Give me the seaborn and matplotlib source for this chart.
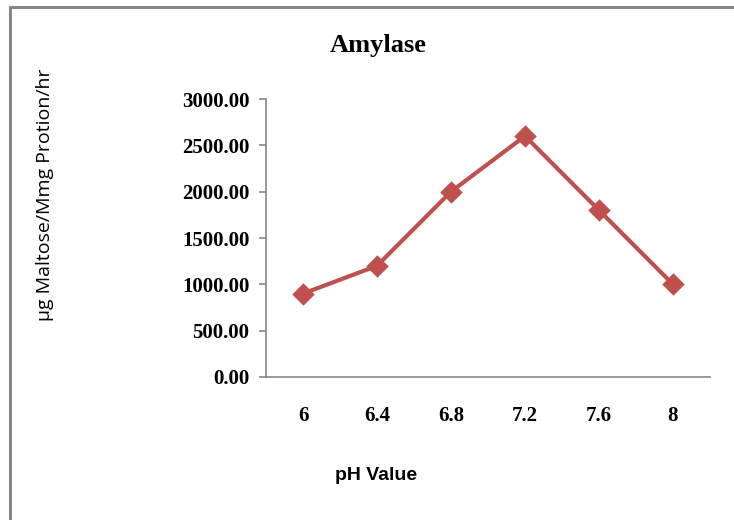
import pandas as pd
import seaborn as sns
import matplotlib.pyplot as plt
from matplotlib.lines import Line2D

# data
ph = ["6", "6.4", "6.8", "7.2", "7.6", "8"]
activity = [900, 1200, 2000, 2600, 1800, 1000]
df = pd.DataFrame({"ph": ph, "activity": activity})

sns.set_style("white")
red = "#C0504D"
grey = "#868686"

fig = plt.figure(figsize=(7.34, 5.2), dpi=100)
ax = fig.add_axes([0.3624, 0.275, 0.6049, 0.5346])

sns.pointplot(data=df, x="ph", y="activity", order=ph, color=red,
              marker="D", markersize=9, linewidth=3, errorbar=None, ax=ax)

ax.set_ylim(0, 3000)
ax.set_xlim(-0.5, 5.5)
yt = [0, 500, 1000, 1500, 2000, 2500, 3000]
ax.set_yticks(yt)
ax.set_yticklabels([f"{v:.2f}" for v in yt])
ax.set_xlabel("")
ax.set_ylabel("")
for lab in ax.get_xticklabels() + ax.get_yticklabels():
    lab.set_fontfamily("Liberation Serif")
    lab.set_fontweight("bold")
    lab.set_fontsize(15)
    lab.set_color("black")
ax.tick_params(axis="x", length=0, pad=21)
ax.tick_params(axis="y", length=5, width=1.2, color=grey, direction="out", left=True, pad=7)

for s in ["top", "right"]:
    ax.spines[s].set_visible(False)
for s in ["left", "bottom"]:
    ax.spines[s].set_color(grey)
    ax.spines[s].set_linewidth(1.2)

# titles as figure text
fig.text(0.515, 0.913, "Amylase", ha="center", va="center", color="black",
         fontfamily="Liberation Serif", fontweight="bold", fontsize=19)
fig.text(0.061, 0.625, "µg Maltose/Mmg Protion/hr", ha="center", va="center",
         rotation=90, fontfamily="Open Sans", fontsize=14, color="black")
fig.text(0.512, 0.0865, "pH Value", ha="center", va="center", color="black",
         fontfamily="Liberation Sans", fontweight="bold", fontsize=14)

# chart border (top and left visible)
fig.add_artist(Line2D([0.0136, 0.0136], [0, 0.9865], color=grey, lw=2.2, transform=fig.transFigure))
fig.add_artist(Line2D([0.0136, 1], [0.9865, 0.9865], color=grey, lw=2.2, transform=fig.transFigure))

fig.savefig("out.png", dpi=100)
